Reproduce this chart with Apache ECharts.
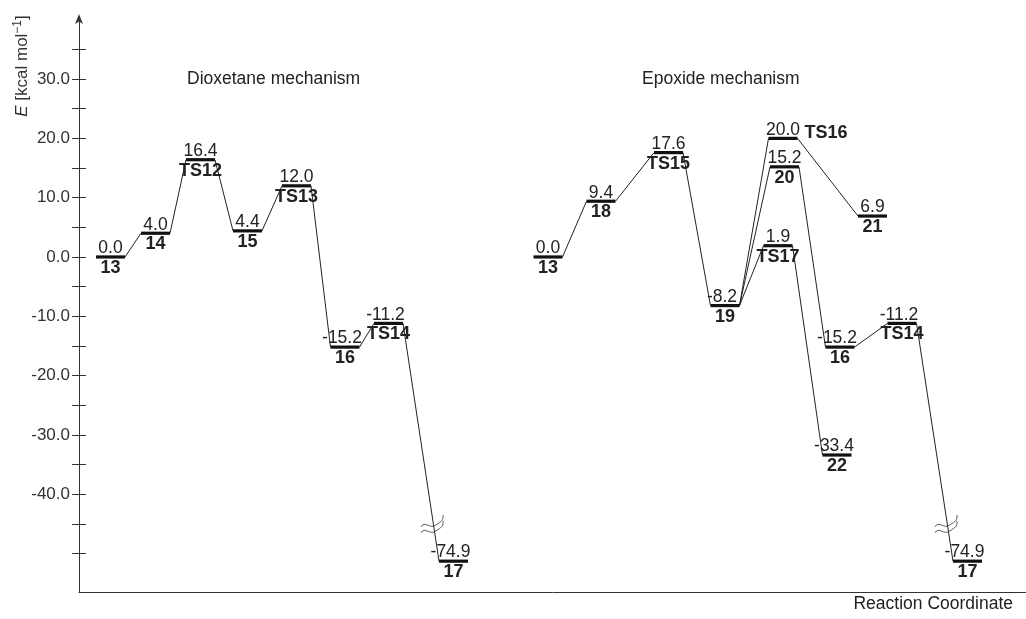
<!DOCTYPE html>
<html>
<head>
<meta charset="utf-8">
<script src="https://cdn.jsdelivr.net/npm/echarts@6/dist/echarts.min.js"></script>
<style>html,body{margin:0;padding:0;background:#fff;}#c{width:1026px;height:619px;}</style>
</head>
<body>
<div id="c"></div>
<script>
// ---- data ----
const levelNames = ['13','14','TS12','15','TS13','16','TS14','17',
                    '13','18','TS15','19','TS16','20','TS17','21','16','22','TS14','17'];
const energies   = [0.0, 4.0, 16.4, 4.4, 12.0, -15.2, -11.2, -74.9,
                    0.0, 9.4, 17.6, -8.2, 20.0, 15.2, 1.9, 6.9, -15.2, -33.4, -11.2, -74.9];
// position along the reaction coordinate (arbitrary units)
const reactionCoord = [3.15, 7.65, 12.15, 16.85, 21.75, 26.6, 30.95, 37.45,
                       46.9, 52.2, 58.95, 64.6, 70.4, 70.55, 69.9, 79.35, 76.1, 75.8, 82.3, 88.85];
// energies below the axis break are drawn at this axis value
const breakAxisValue = -51.3;
const breakThreshold = -56;
// pathways: [from level, to level]
const connections = [[0,1],[1,2],[2,3],[3,4],[4,5],[5,6],[6,7],
                     [8,9],[9,10],[10,11],[11,12],[11,13],[11,14],[12,15],[13,16],[14,17],[16,18],[18,19]];
const yTickValues  = [-50,-45,-40,-35,-30,-25,-20,-15,-10,-5,0,5,10,15,20,25,30,35];
const yLabelValues = [-40,-30,-20,-10,0,10,20,30];
const titles = ['Dioxetane mechanism', 'Epoxide mechanism'];

// ---- drawing ----
const FONT = "'Liberation Sans', Arial, sans-serif";
const HALF = 14.5;       // half width of a level bar in px
const TEXT = '#222';
const shownY = e => (e < breakThreshold ? breakAxisValue : e);

const levelData = energies.map((e, i) => [reactionCoord[i], shownY(e)]);
const connData = connections.map(([a, b]) => [
  reactionCoord[a], shownY(energies[a]), reactionCoord[b], shownY(energies[b]),
  energies[b] < breakThreshold ? 1 : 0
]);

function squigglePath(cx, cy) {
  let s = '';
  [-3, 3].forEach(d => {
    const y = cy + d;
    s += `M${cx-13},${y+2} C${cx-9},${y-5} ${cx-4},${y+5} ${cx+2},${y} ` +
         `C${cx+7},${y-3} ${cx+10},${y-5} ${cx+9},${y-10} `;
  });
  return s;
}

const chart = echarts.init(document.getElementById('c'), null, {renderer: 'canvas'});
const option = {
  animation: false,
  backgroundColor: '#fff',
  grid: {left: 79, right: 0, top: 18, bottom: 27},
  xAxis: {
    type: 'value', min: 0, max: 94.7,
    axisLine: {show: true, onZero: false, lineStyle: {color: '#333', width: 1}},
    axisTick: {show: false}, axisLabel: {show: false}, splitLine: {show: false}
  },
  yAxis: [{
    type: 'value', min: -56.5, max: 40.3, position: 'left',
    axisLine: {show: true, symbol: ['none', 'arrow'], symbolSize: [6, 10], symbolOffset: [0, 4],
               lineStyle: {color: '#333', width: 1}},
    axisTick: {show: true, inside: false, length: 7, customValues: yTickValues, lineStyle: {color: '#333'}},
    axisLabel: {show: true, customValues: yLabelValues, margin: 9,
                formatter: v => v.toFixed(1), fontSize: 17, fontFamily: FONT, color: '#333'},
    splitLine: {show: false}
  }, {
    type: 'value', min: -56.5, max: 40.3, position: 'left', offset: 0,
    axisLine: {show: false},
    axisTick: {show: true, inside: true, length: 7, customValues: yTickValues, lineStyle: {color: '#333'}},
    axisLabel: {show: false},
    splitLine: {show: false}
  }],
  graphic: [
    {type: 'text', x: 22, y: 66, rotation: Math.PI / 2,
     style: {text: '{i|E} [kcal mol{s|−1}]', align: 'center', verticalAlign: 'middle',
             font: `17px ${FONT}`, fill: '#333',
             rich: {i: {fontStyle: 'italic', fontSize: 17, fontFamily: FONT, fill: '#333'},
                    s: {fontSize: 12, fontFamily: FONT, verticalAlign: 'top', padding: [0, 0, 8, 0], fill: '#333'}}}},
    {type: 'text', x: 187, y: 79,
     style: {text: titles[0], font: `17.5px ${FONT}`, fill: TEXT, verticalAlign: 'middle'}},
    {type: 'text', x: 642, y: 79,
     style: {text: titles[1], font: `17.5px ${FONT}`, fill: TEXT, verticalAlign: 'middle'}},
    {type: 'text', x: 1013, y: 604,
     style: {text: 'Reaction Coordinate', font: `17.5px ${FONT}`, fill: TEXT, align: 'right', verticalAlign: 'middle'}}
  ],
  series: [{
    type: 'custom',
    data: connData,
    encode: {x: [0, 2], y: [1, 3]},
    silent: true,
    renderItem: (params, api) => {
      const p0 = api.coord([api.value(0), api.value(1)]);
      const p1 = api.coord([api.value(2), api.value(3)]);
      const x0 = p0[0] + HALF, y0 = p0[1], x1 = p1[0] - HALF, y1 = p1[1];
      const children = [{
        type: 'line', shape: {x1: x0, y1: y0, x2: x1, y2: y1},
        style: {stroke: '#222', lineWidth: 1}
      }];
      if (api.value(4)) {
        const t = 0.86;
        children.push({
          type: 'path', shape: {pathData: squigglePath(x0 + (x1 - x0) * t, y0 + (y1 - y0) * t)},
          style: {stroke: '#333', lineWidth: 0.8, fill: null}
        });
      }
      return {type: 'group', children};
    }
  }, {
    type: 'custom',
    data: levelData,
    encode: {x: 0, y: 1},
    silent: true,
    renderItem: (params, api) => {
      const i = params.dataIndex;
      const c = api.coord([api.value(0), api.value(1)]);
      const e = energies[i];
      const nameRight = levelNames[i] === 'TS16';
      return {type: 'group', children: [
        {type: 'line', shape: {x1: c[0] - HALF, y1: c[1], x2: c[0] + HALF, y2: c[1]},
         style: {stroke: '#111', lineWidth: 3.2}},
        {type: 'text', x: c[0] + (e < 0 ? -3 : 0), y: c[1] + 0.5,
         style: {text: e.toFixed(1), font: `17.5px ${FONT}`, fill: TEXT, align: 'center', verticalAlign: 'bottom'}},
        nameRight
          ? {type: 'text', x: c[0] + HALF + 7, y: c[1] + 4,
             style: {text: levelNames[i], font: `bold 18px ${FONT}`, fill: TEXT, align: 'left', verticalAlign: 'bottom'}}
          : {type: 'text', x: c[0], y: c[1] + 2,
             style: {text: levelNames[i], font: `bold 18px ${FONT}`, fill: TEXT, align: 'center', verticalAlign: 'top'}}
      ]};
    }
  }]
};
chart.setOption(option);
</script>
</body>
</html>
